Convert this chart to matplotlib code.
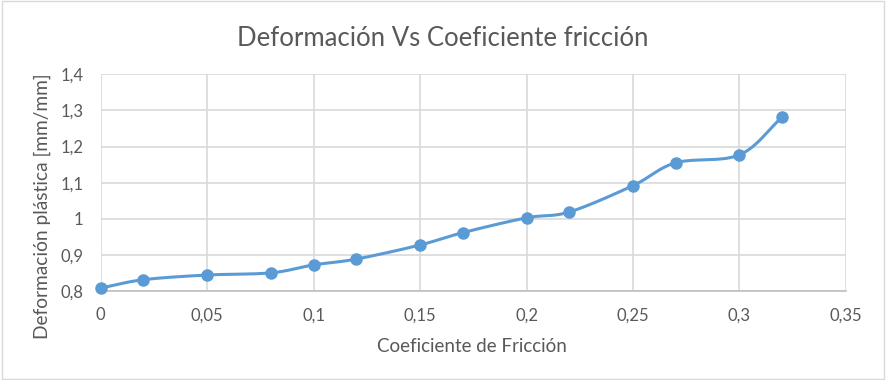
import matplotlib
matplotlib.use("Agg")
import matplotlib.pyplot as plt
import numpy as np
from matplotlib.ticker import FuncFormatter, MultipleLocator
from matplotlib.patches import Rectangle

# datos
friccion = [0, 0.02, 0.05, 0.08, 0.10, 0.12, 0.15, 0.17, 0.20, 0.22, 0.25, 0.27, 0.30, 0.32]
deformacion = [0.809, 0.832, 0.845, 0.851, 0.873, 0.889, 0.928, 0.962, 1.003, 1.019,
               1.092, 1.155, 1.177, 1.281]

titulo = "Deformación Vs Coeficiente fricción"
xlabel = "Coeficiente de Fricción"
ylabel = "Deformación plástica [mm/mm]"

azul = "#5B9BD5"
gris_txt = "#595959"
gris_grid = "#D9D9D9"

plt.rcParams['font.family'] = ['Lato', 'DejaVu Sans']


def suavizar(x, y, n=20):
    # curva tipo Catmull-Rom (como la linea suavizada de Excel)
    x = np.asarray(x, float)
    y = np.asarray(y, float)
    px = np.concatenate([[2 * x[0] - x[1]], x, [2 * x[-1] - x[-2]]])
    py = np.concatenate([[2 * y[0] - y[1]], y, [2 * y[-1] - y[-2]]])
    xs, ys = [], []
    t = np.linspace(0, 1, n)
    for i in range(1, len(px) - 2):
        p0x, p1x, p2x, p3x = px[i - 1:i + 3]
        p0y, p1y, p2y, p3y = py[i - 1:i + 3]
        # bezier con puntos de control a 1/6
        c1x, c1y = p1x + (p2x - p0x) / 6, p1y + (p2y - p0y) / 6
        c2x, c2y = p2x - (p3x - p1x) / 6, p2y - (p3y - p1y) / 6
        bx = (1 - t) ** 3 * p1x + 3 * (1 - t) ** 2 * t * c1x + 3 * (1 - t) * t ** 2 * c2x + t ** 3 * p2x
        by = (1 - t) ** 3 * p1y + 3 * (1 - t) ** 2 * t * c1y + 3 * (1 - t) * t ** 2 * c2y + t ** 3 * p2y
        xs.extend(bx)
        ys.extend(by)
    return np.array(xs), np.array(ys)


fig = plt.figure(figsize=(8.86, 3.8), dpi=100)
ax = fig.add_axes([0.1137, 0.2334, 0.8411, 0.5716])

sx, sy = suavizar(friccion, deformacion)
ax.plot(sx, sy, color=azul, lw=2.2, solid_capstyle='round', zorder=3, clip_on=False)
ax.plot(friccion, deformacion, 'o', color=azul, ms=8, zorder=4, clip_on=False)

ax.set_xlim(0, 0.35)
ax.set_ylim(0.8, 1.4)
ax.xaxis.set_major_locator(MultipleLocator(0.05))
ax.yaxis.set_major_locator(MultipleLocator(0.1))
fmt = FuncFormatter(lambda v, p: ('%g' % round(v, 3)).replace('.', ','))
ax.xaxis.set_major_formatter(fmt)
ax.yaxis.set_major_formatter(fmt)

ax.grid(True, color=gris_grid, lw=1.2)
ax.set_axisbelow(True)
for s in ['left', 'top', 'right']:
    ax.spines[s].set_visible(False)
ax.spines['bottom'].set_color('#BFBFBF')
ax.spines['bottom'].set_linewidth(1.2)
ax.tick_params(length=0, labelsize=12, colors=gris_txt)
ax.tick_params(axis='x', pad=11.5)
ax.tick_params(axis='y', pad=12.5)

ax.set_xlabel(xlabel, fontsize=13.5, color=gris_txt)
ax.set_ylabel(ylabel, fontsize=13.8, color=gris_txt)
ax.xaxis.set_label_coords(0.498, -0.256)
ax.xaxis.label.set_va('center')
ax.yaxis.set_label_coords(-0.079, 0.39)
ax.yaxis.label.set_va('center')
fig.text(0.5, 0.9, titulo, ha='center', va='center', fontsize=18.5, color=gris_txt)

# borde del area del grafico
fig.patches.append(Rectangle((0.002, 0.003), 0.996, 0.994, transform=fig.transFigure,
                             fill=False, edgecolor=gris_grid, lw=1))

fig.savefig("out.png", dpi=100)
